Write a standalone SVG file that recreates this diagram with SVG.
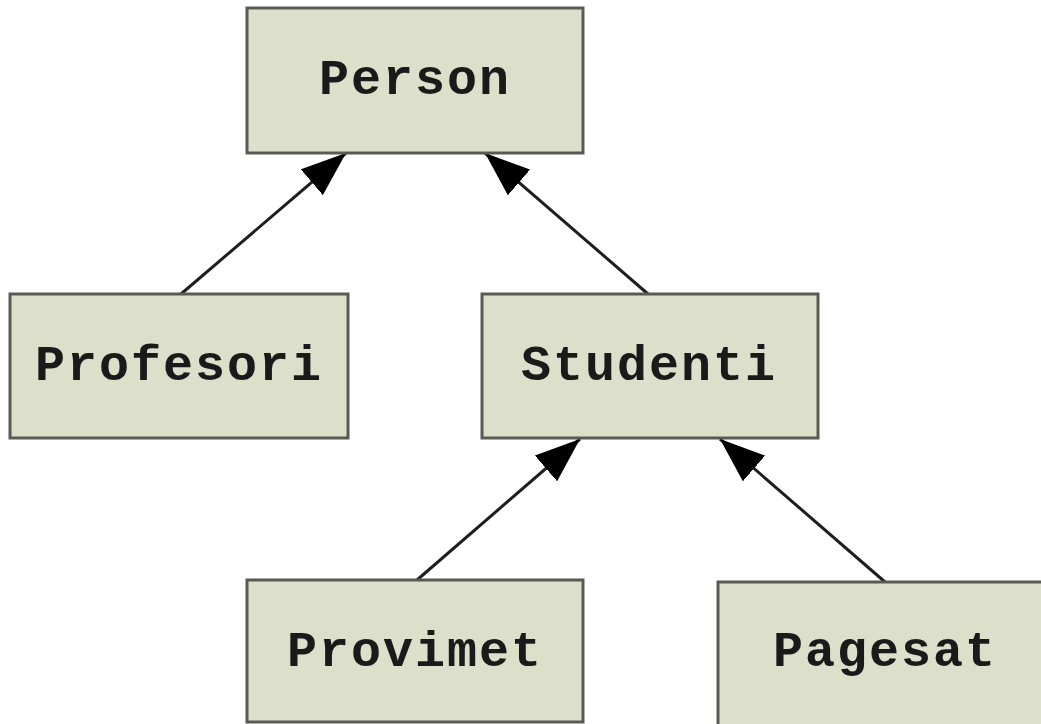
<svg xmlns="http://www.w3.org/2000/svg" width="1041" height="724" viewBox="0 0 1041 724">
<style>
.box{fill:#dcdfc9;stroke:#5a5a55;stroke-width:3}
.lbl{font-family:"Liberation Mono","Courier New",monospace;font-weight:bold;font-size:50px;letter-spacing:2px;fill:#1a1a1a;text-anchor:middle}
.edge{stroke:#1e1e1e;stroke-width:3;fill:none;marker-end:url(#tri)}
</style>
<defs>
<marker id="tri" viewBox="0 0 45 34" refX="45" refY="17" markerWidth="45" markerHeight="34" markerUnits="userSpaceOnUse" orient="auto">
<path d="M0,0 L45,17 L0,34 z" fill="#000"/>
</marker>
</defs>
<rect width="1041" height="724" fill="#fff"/>
<g id="connectors">
<line class="edge" x1="181" y1="294" x2="346" y2="153"/>
<line class="edge" x1="648" y1="294" x2="485" y2="153"/>
<line class="edge" x1="417" y1="580" x2="580" y2="439"/>
<line class="edge" x1="885" y1="582" x2="720" y2="439"/>
</g>
<g id="person"><rect class="box" x="247" y="8" width="336" height="145"/><text class="lbl" x="415" y="94">Person</text></g>
<g id="profesori"><rect class="box" x="10" y="294" width="338" height="144"/><text class="lbl" x="179" y="380">Profesori</text></g>
<g id="studenti"><rect class="box" x="482" y="294" width="336" height="144"/><text class="lbl" x="649" y="380">Studenti</text></g>
<g id="provimet"><rect class="box" x="247" y="580" width="336" height="142"/><text class="lbl" x="415" y="666">Provimet</text></g>
<g id="pagesat"><rect class="box" x="718" y="582" width="336" height="150"/><text class="lbl" x="885" y="666">Pagesat</text></g>
</svg>
